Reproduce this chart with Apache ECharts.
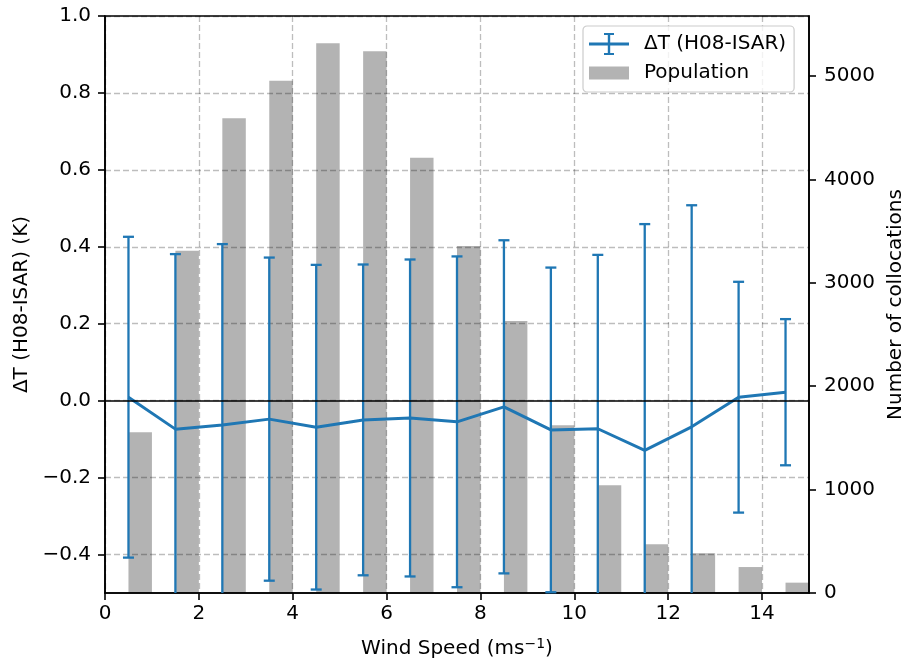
<!DOCTYPE html>
<html><head><meta charset="utf-8">
<script src="https://cdn.jsdelivr.net/npm/echarts@6/dist/echarts.min.js"></script>
<style>html,body{margin:0;padding:0;background:#fff}#c{width:907px;height:659px}</style>
</head><body><div id="c"></div>
<script>
// ---- data ----
const windSpeed = [0.5, 1.5, 2.5, 3.5, 4.5, 5.5, 6.5, 7.5, 8.5, 9.5, 10.5, 11.5, 12.5, 13.5, 14.5];
const deltaT = [0.009, -0.074, -0.063, -0.048, -0.069, -0.050, -0.045, -0.055, -0.016, -0.076, -0.073, -0.129, -0.068, 0.009, 0.022];
const deltaTStd = [0.417, 0.455, 0.470, 0.420, 0.422, 0.404, 0.412, 0.430, 0.433, 0.422, 0.452, 0.588, 0.576, 0.300, 0.190];
const population = [1554, 3310, 4591, 4955, 5316, 5239, 4210, 3356, 2631, 1622, 1042, 471, 384, 251, 100];
const xTicks = [0, 2, 4, 6, 8, 10, 12, 14];
const leftTicks = [-0.4, -0.2, 0.0, 0.2, 0.4, 0.6, 0.8, 1.0];
const rightTicks = [0, 1000, 2000, 3000, 4000, 5000];

const X_MIN = 0, X_MAX = 15, LEFT_MIN = -0.5, LEFT_MAX = 1.0, RIGHT_MAX = 5580;
const BAR_W = 0.5;
const BLUE = '#1f77b4', GRAY = '#b3b3b3';
const FONT = 'DejaVu Sans';
const NAME_DT = '\u0394T (H08-ISAR)';

const chart = echarts.init(document.getElementById('c'), null, {renderer: 'canvas'});

const gridLine = {show: true, lineStyle: {color: 'rgba(0,0,0,0.26)', type: [6, 3], width: 1.3}};
const axisLineK = {show: true, onZero: false, lineStyle: {color: '#000', width: 1.6}};
const tickK = (vals) => ({show: true, customValues: vals, length: 7, inside: false, lineStyle: {color: '#000', width: 1.6}});
const fmtLeft = v => (Math.abs(v) < 1e-9 ? '0.0' : v.toFixed(1)).replace('-', '\u2212');
const fmtInt = v => String(Math.round(v));

chart.setOption({
  animation: false,
  backgroundColor: '#fff',
  textStyle: {fontFamily: FONT},
  grid: {left: 105, right: 98, top: 16, bottom: 66, show: true, borderColor: '#000', borderWidth: 1.6,
         backgroundColor: 'transparent', containLabel: false, outerBoundsMode: 'none'},
  legend: {
    show: true, orient: 'vertical', left: 583, top: 26,
    itemWidth: 40, itemHeight: 22, itemGap: 7,
    padding: [7, 8, 8, 6],
    borderColor: '#cccccc', borderWidth: 1.2, borderRadius: 4,
    backgroundColor: 'rgba(255,255,255,0.8)',
    selectedMode: false,
    textStyle: {fontFamily: FONT, fontSize: 20, color: '#000', padding: [0, 0, 0, 10]},
    data: [
      {name: NAME_DT, icon: 'path://M0,9.5H40V12.5H0Z M18.8,0H21.2V22H18.8Z M15,0H25V2H15Z M15,20H25V22H15Z', itemStyle: {color: BLUE}},
      {name: 'Population', icon: 'path://M0,0H0.01V0.01H0Z M0,4.5H40V17.5H0Z M39.99,21.99H40V22H39.99Z', itemStyle: {color: GRAY}}
    ]
  },
  xAxis: {
    type: 'value', min: X_MIN, max: X_MAX,
    name: 'Wind Speed (ms{sup|\u22121})', nameLocation: 'middle', nameGap: 44,
    nameTextStyle: {fontFamily: FONT, fontSize: 20, color: '#000',
      rich: {sup: {fontFamily: FONT, fontSize: 14, color: '#000', padding: [0, 0, 9, 0]}}},
    axisLine: axisLineK, axisTick: tickK(xTicks),
    axisLabel: {customValues: xTicks, fontFamily: FONT, fontSize: 20, color: '#000', margin: 11},
    splitLine: gridLine
  },
  yAxis: [{
    type: 'value', min: LEFT_MIN, max: LEFT_MAX, splitNumber: 8,
    name: '\u0394T (H08-ISAR) (K)', nameLocation: 'middle', nameGap: 72, nameRotate: 90,
    nameTextStyle: {fontFamily: FONT, fontSize: 20, color: '#000'},
    axisLine: axisLineK, axisTick: tickK(leftTicks),
    axisLabel: {customValues: leftTicks, formatter: fmtLeft, fontFamily: FONT, fontSize: 20, color: '#000', margin: 14},
    splitLine: gridLine
  }, {
    type: 'value', min: 0, max: RIGHT_MAX, position: 'right',
    name: 'Number of collocations', nameLocation: 'middle', nameGap: 62, nameRotate: 90,
    nameTextStyle: {fontFamily: FONT, fontSize: 20, color: '#000'},
    axisLine: axisLineK, axisTick: tickK(rightTicks),
    axisLabel: {customValues: rightTicks, formatter: fmtInt, fontFamily: FONT, fontSize: 20, color: '#000', margin: 15},
    splitLine: {show: false}
  }],
  series: [{
    name: 'Population', type: 'custom', yAxisIndex: 1, z: -1,
    itemStyle: {color: GRAY},
    data: windSpeed.map((w, i) => [w, population[i]]),
    encode: {x: 0, y: 1},
    renderItem: (params, api) => {
      const x = api.value(0), v = api.value(1);
      const p0 = api.coord([x, 0]);
      const p1 = api.coord([x + BAR_W, v]);
      return {type: 'rect', shape: {x: p0[0], y: p1[1], width: p1[0] - p0[0], height: p0[1] - p1[1]},
              style: {fill: GRAY}};
    }
  }, {
    name: NAME_DT, type: 'custom', yAxisIndex: 0, z: 3,
    itemStyle: {color: BLUE},
    data: windSpeed.map((w, i) => [w, deltaT[i], deltaTStd[i]]),
    encode: {x: 0, y: 1},
    renderItem: (params, api) => {
      const x = api.value(0), m = api.value(1), s = api.value(2);
      const hiV = m + s, loV = m - s;
      const pT = api.coord([x, Math.min(hiV, LEFT_MAX)]);
      const pB = api.coord([x, Math.max(loV, LEFT_MIN)]);
      const st = {stroke: BLUE, lineWidth: 2.3};
      const ch = [{type: 'line', shape: {x1: pT[0], y1: pT[1], x2: pB[0], y2: pB[1]}, style: st}];
      if (hiV <= LEFT_MAX) ch.push({type: 'line', shape: {x1: pT[0] - 5.5, y1: pT[1], x2: pT[0] + 5.5, y2: pT[1]}, style: st});
      if (loV >= LEFT_MIN) ch.push({type: 'line', shape: {x1: pB[0] - 5.5, y1: pB[1], x2: pB[0] + 5.5, y2: pB[1]}, style: st});
      return {type: 'group', children: ch};
    },
    markLine: {silent: true, symbol: ['none', 'none'], label: {show: false}, animation: false,
      lineStyle: {color: '#000', width: 1.6, type: 'solid'}, emphasis: {disabled: true},
      data: [{yAxis: 0}]}
  }, {
    name: NAME_DT, type: 'line', yAxisIndex: 0, z: 4,
    data: windSpeed.map((w, i) => [w, deltaT[i]]),
    symbol: 'none', showSymbol: false,
    lineStyle: {color: BLUE, width: 3},
    itemStyle: {color: BLUE}
  }]
});
</script>
</body></html>
